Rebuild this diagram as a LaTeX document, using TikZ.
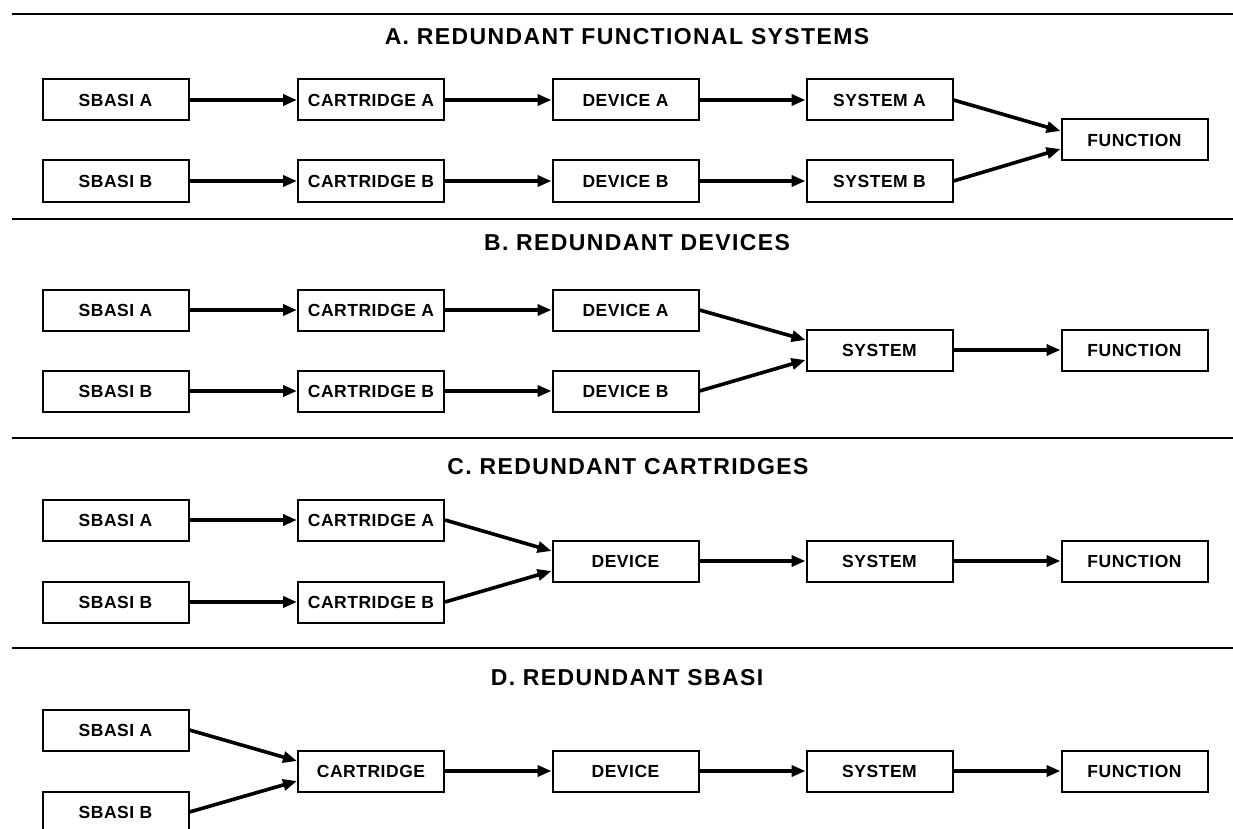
\documentclass[tikz,border=0pt]{standalone}
\usepackage{fontspec}
\setmainfont{Liberation Sans}
\newfontfamily\lblfam[LetterSpace=3]{Liberation Sans}
\newfontfamily\ttlfam[LetterSpace=6]{Liberation Sans}
\usetikzlibrary{arrows.meta}
\begin{document}
\begin{tikzpicture}[x=1pt,y=-1pt,
  box/.style={draw, line width=2pt, minimum width=146pt, minimum height=41pt, inner sep=0pt,
              font=\lblfam\bfseries\fontsize{17.5}{20}\selectfont},
  conn/.style={line width=3.6pt, -{Triangle[length=14pt,width=11pt]}},
  sep/.style={line width=2.4pt},
  ttl/.style={font=\ttlfam\bfseries\fontsize{23}{26}\selectfont, inner sep=0pt}]
\clip (0,0) rectangle (1233,829);
\useasboundingbox (0,0) rectangle (1233,829);

% separators
\coordinate (l1a) at (12,14);  \coordinate (l1b) at (1233,14);
\coordinate (l2a) at (12,219); \coordinate (l2b) at (1233,219);
\coordinate (l3a) at (12,438); \coordinate (l3b) at (1233,438);
\coordinate (l4a) at (12,648); \coordinate (l4b) at (1233,648);
\draw[sep] (l1a) -- (l1b);
\draw[sep] (l2a) -- (l2b);
\draw[sep] (l3a) -- (l3b);
\draw[sep] (l4a) -- (l4b);

% ---------- A ----------
\node[ttl] (tA) at (627,37) {A. REDUNDANT FUNCTIONAL SYSTEMS};
\node[box] (aS1) at (115.5,100) {SBASI A};
\node[box] (aS2) at (115.5,181) {SBASI B};
\node[box] (aC1) at (371,100) {CARTRIDGE A};
\node[box] (aC2) at (371,181) {CARTRIDGE B};
\node[box] (aD1) at (625.5,100) {DEVICE A};
\node[box] (aD2) at (625.5,181) {DEVICE B};
\node[box] (aY1) at (879.5,100) {SYSTEM A};
\node[box] (aY2) at (879.5,181) {SYSTEM B};
\node[box] (aF) at (1134.5,140) {FUNCTION};
\draw[conn] (aS1) -- (aC1);
\draw[conn] (aS2) -- (aC2);
\draw[conn] (aC1) -- (aD1);
\draw[conn] (aC2) -- (aD2);
\draw[conn] (aD1) -- (aY1);
\draw[conn] (aD2) -- (aY2);
\draw[conn] (aY1.east) -- ([yshift=9pt]aF.west);
\draw[conn] (aY2.east) -- ([yshift=-9pt]aF.west);

% ---------- B ----------
\node[ttl] (tB) at (637,243) {B. REDUNDANT DEVICES};
\node[box] (bS1) at (115.5,310) {SBASI A};
\node[box] (bS2) at (115.5,391) {SBASI B};
\node[box] (bC1) at (371,310) {CARTRIDGE A};
\node[box] (bC2) at (371,391) {CARTRIDGE B};
\node[box] (bD1) at (625.5,310) {DEVICE A};
\node[box] (bD2) at (625.5,391) {DEVICE B};
\node[box] (bY) at (879.5,350) {SYSTEM};
\node[box] (bF) at (1134.5,350) {FUNCTION};
\draw[conn] (bS1) -- (bC1);
\draw[conn] (bS2) -- (bC2);
\draw[conn] (bC1) -- (bD1);
\draw[conn] (bC2) -- (bD2);
\draw[conn] (bD1.east) -- ([yshift=10pt]bY.west);
\draw[conn] (bD2.east) -- ([yshift=-10pt]bY.west);
\draw[conn] (bY) -- (bF);

% ---------- C ----------
\node[ttl] (tC) at (628,467) {C. REDUNDANT CARTRIDGES};
\node[box] (cS1) at (115.5,520) {SBASI A};
\node[box] (cS2) at (115.5,602) {SBASI B};
\node[box] (cC1) at (371,520) {CARTRIDGE A};
\node[box] (cC2) at (371,602) {CARTRIDGE B};
\node[box] (cD) at (625.5,561) {DEVICE};
\node[box] (cY) at (879.5,561) {SYSTEM};
\node[box] (cF) at (1134.5,561) {FUNCTION};
\draw[conn] (cS1) -- (cC1);
\draw[conn] (cS2) -- (cC2);
\draw[conn] (cC1.east) -- ([yshift=10pt]cD.west);
\draw[conn] (cC2.east) -- ([yshift=-10pt]cD.west);
\draw[conn] (cD) -- (cY);
\draw[conn] (cY) -- (cF);

% ---------- D ----------
\node[ttl] (tD) at (627,678) {D. REDUNDANT SBASI};
\node[box] (dS1) at (115.5,730) {SBASI A};
\node[box] (dS2) at (115.5,812) {SBASI B};
\node[box] (dC) at (371,771) {CARTRIDGE};
\node[box] (dD) at (625.5,771) {DEVICE};
\node[box] (dY) at (879.5,771) {SYSTEM};
\node[box] (dF) at (1134.5,771) {FUNCTION};
\draw[conn] (dS1.east) -- ([yshift=10pt]dC.west);
\draw[conn] (dS2.east) -- ([yshift=-10pt]dC.west);
\draw[conn] (dC) -- (dD);
\draw[conn] (dD) -- (dY);
\draw[conn] (dY) -- (dF);
\end{tikzpicture}
\end{document}
